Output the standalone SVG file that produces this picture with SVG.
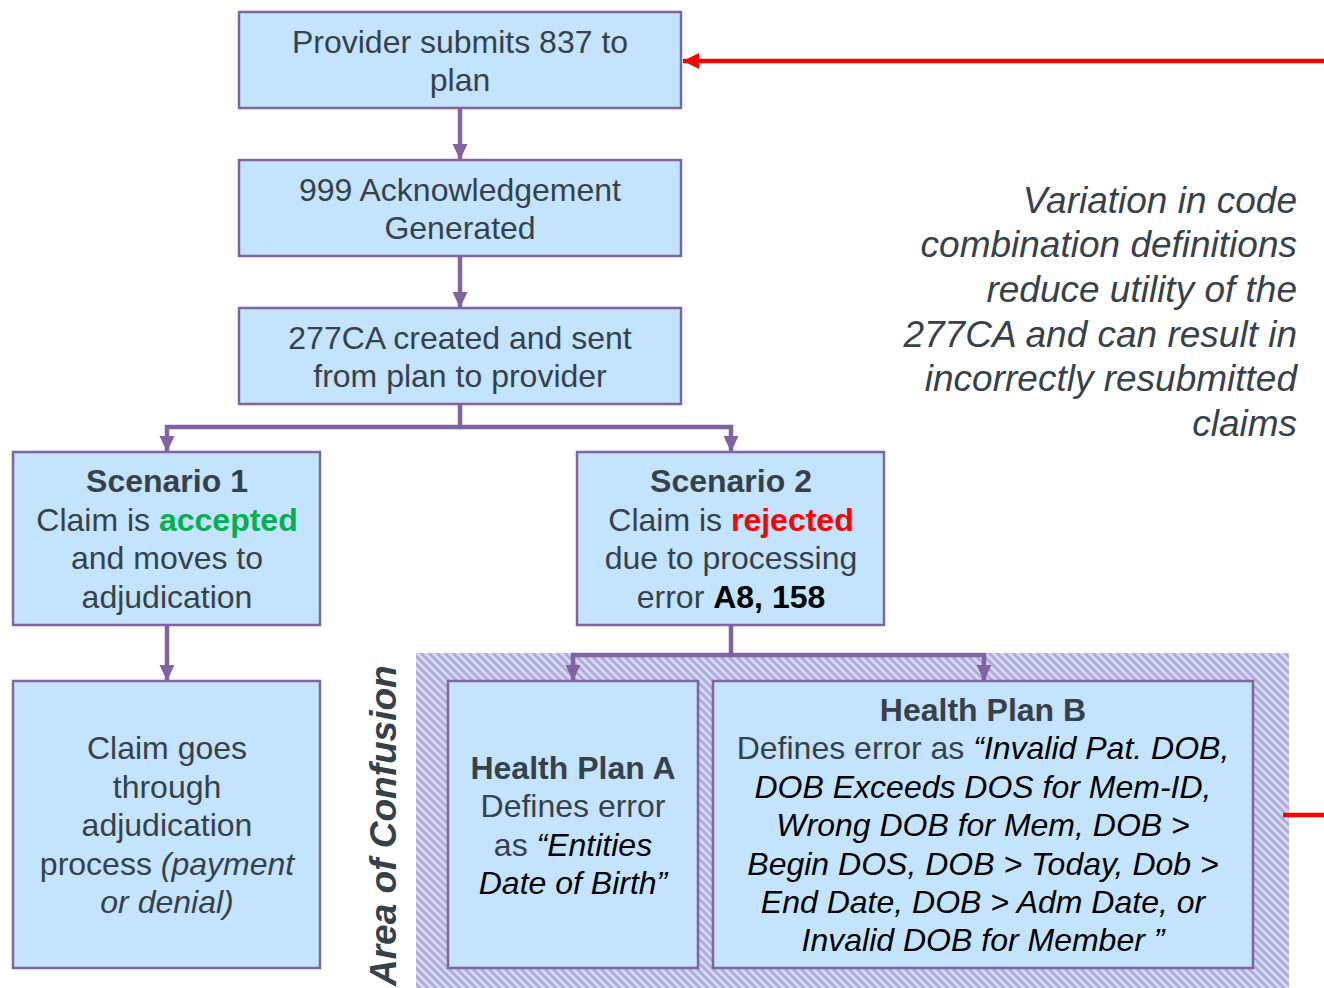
<svg xmlns="http://www.w3.org/2000/svg" width="1324" height="988" viewBox="0 0 1324 988">
<defs>
<style>
.box{fill:#c4e4fd;stroke:#8064a2;stroke-width:2.5}
.t{font-family:"Liberation Sans",Arial,sans-serif;font-size:32px;fill:#36414a;text-anchor:middle}
.b{font-weight:bold}
.i{font-style:italic}
.k{fill:#000}
.side{font-family:"Liberation Sans",Arial,sans-serif;font-size:37px;font-style:italic;fill:#36414a;text-anchor:end}
.con{fill:none;stroke:#8064a2;stroke-width:4.5}
</style>
<pattern id="hatch" patternUnits="userSpaceOnUse" width="8" height="8">
<rect width="8" height="8" fill="#d7d7f0"/>
<path d="M-2,6 L2,10 M0,0 L8,8 M6,-2 L10,2" stroke="#a9a9dc" stroke-width="2.6"/>
</pattern>
<marker id="ah" markerUnits="userSpaceOnUse" markerWidth="18" markerHeight="18" refX="16" refY="8" orient="auto">
<path d="M0,0.5 L16,8 L0,15.5 Z" fill="#8064a2"/>
</marker>
<marker id="ahr" markerUnits="userSpaceOnUse" markerWidth="20" markerHeight="20" refX="16" refY="10" orient="auto">
<path d="M0,2 L16,10 L0,18 Z" fill="#ff0000"/>
</marker>
</defs>
<rect id="area" x="416" y="653" width="873" height="335" fill="url(#hatch)"/>
<text id="area-label" x="0" y="0" transform="translate(396,986) rotate(-90)" font-family="Liberation Sans,Arial,sans-serif" font-size="37" font-weight="bold" font-style="italic" fill="#36414a">Area of Confusion</text>
<g id="connectors">
<path class="con" d="M460,108 V160" marker-end="url(#ah)"/>
<path class="con" d="M460,256 V308" marker-end="url(#ah)"/>
<path class="con" d="M460,404 V427 H167 V452" marker-end="url(#ah)"/>
<path class="con" d="M460,427 H731 V452" marker-end="url(#ah)"/>
<path class="con" d="M167,625 V681" marker-end="url(#ah)"/>
<path class="con" d="M731,625 V655 H573 V681" marker-end="url(#ah)"/>
<path class="con" d="M731,655 H984 V681" marker-end="url(#ah)"/>
<path d="M1324,61 H683" stroke="#ff0000" stroke-width="4.5" fill="none" marker-end="url(#ahr)"/>
<path d="M1283,815 H1324" stroke="#ff0000" stroke-width="4.5" fill="none"/>
</g>
<g id="n1"><rect class="box" x="239" y="12" width="442" height="96"/>
<text class="t" x="460" y="53">Provider submits 837 to</text><text class="t" x="460" y="91">plan</text></g>
<g id="n2"><rect class="box" x="239" y="160" width="442" height="96"/>
<text class="t" x="460" y="201">999 Acknowledgement</text><text class="t" x="460" y="239">Generated</text></g>
<g id="n3"><rect class="box" x="239" y="308" width="442" height="96"/>
<text class="t" x="460" y="349">277CA created and sent</text><text class="t" x="460" y="387">from plan to provider</text></g>
<g id="s1"><rect class="box" x="13" y="452" width="307" height="173"/>
<text class="t b" x="167" y="492">Scenario 1</text>
<text class="t" x="167" y="531">Claim is <tspan class="b" fill="#00b050">accepted</tspan></text>
<text class="t" x="167" y="569">and moves to</text>
<text class="t" x="167" y="608">adjudication</text></g>
<g id="s2"><rect class="box" x="577" y="452" width="307" height="173"/>
<text class="t b" x="731" y="492">Scenario 2</text>
<text class="t" x="731" y="531">Claim is <tspan class="b" fill="#ff0000">rejected</tspan></text>
<text class="t" x="731" y="569">due to processing</text>
<text class="t" x="731" y="608">error <tspan class="b k">A8, 158</tspan></text></g>
<g id="adj"><rect class="box" x="13" y="681" width="307" height="287"/>
<text class="t" x="167" y="759">Claim goes</text>
<text class="t" x="167" y="798">through</text>
<text class="t" x="167" y="836">adjudication</text>
<text class="t" x="167" y="875">process <tspan class="i">(payment</tspan></text>
<text class="t i" x="167" y="913">or denial)</text></g>
<g id="planA"><rect class="box" x="448" y="681" width="250" height="287"/>
<text class="t b" x="573" y="779">Health Plan A</text>
<text class="t" x="573" y="817">Defines error</text>
<text class="t" x="573" y="856">as <tspan class="i k">“Entities</tspan></text>
<text class="t i k" x="573" y="894">Date of Birth”</text></g>
<g id="planB"><rect class="box" x="713" y="681" width="540" height="287"/>
<text class="t b" x="983" y="721">Health Plan B</text>
<text class="t" x="983" y="759">Defines error as <tspan class="i k">“Invalid Pat. DOB,</tspan></text>
<text class="t i k" x="983" y="798">DOB Exceeds DOS for Mem-ID,</text>
<text class="t i k" x="983" y="836">Wrong DOB for Mem, DOB &gt;</text>
<text class="t i k" x="983" y="875">Begin DOS, DOB &gt; Today, Dob &gt;</text>
<text class="t i k" x="983" y="913">End Date, DOB &gt; Adm Date, or</text>
<text class="t i k" x="983" y="951">Invalid DOB for Member ”</text></g>
<g id="note">
<text class="side" x="1297" y="213">Variation in code</text>
<text class="side" x="1297" y="257">combination definitions</text>
<text class="side" x="1297" y="302">reduce utility of the</text>
<text class="side" x="1297" y="347">277CA and can result in</text>
<text class="side" x="1297" y="391">incorrectly resubmitted</text>
<text class="side" x="1297" y="436">claims</text>
</g>
</svg>
